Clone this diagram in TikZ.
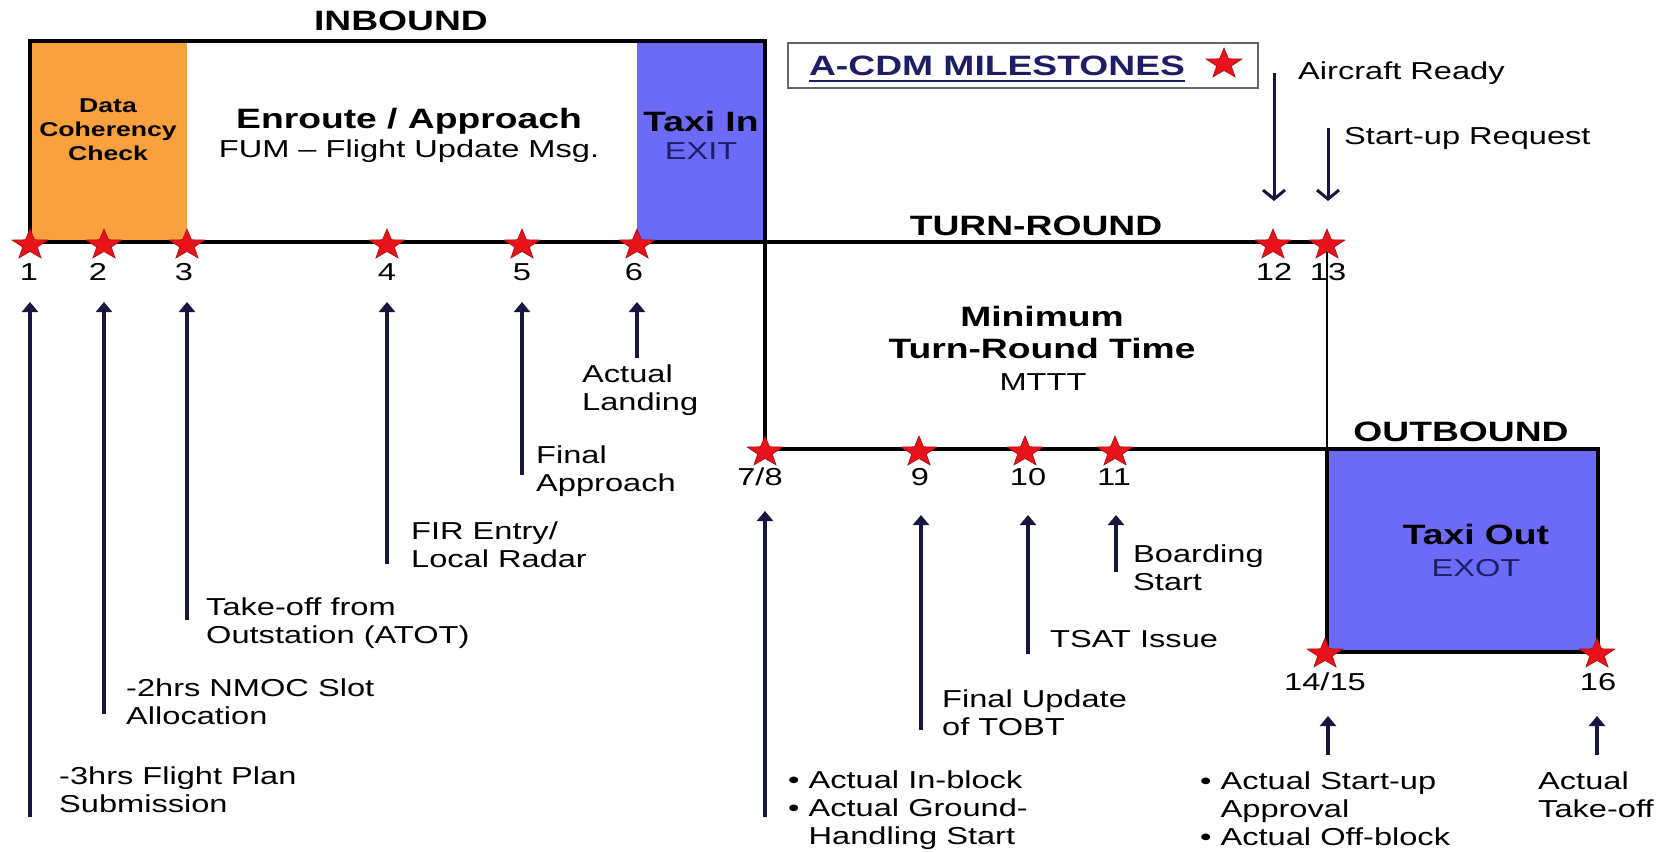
\documentclass[tikz,border=0pt]{standalone}
\usepackage{fontspec}
\setmainfont{Liberation Sans}[FakeStretch=1.33]
\usetikzlibrary{arrows.meta}

\definecolor{phaseorange}{HTML}{F9A03F}
\definecolor{taxiblue}{HTML}{6B6BF8}
\definecolor{arrownavy}{HTML}{16163F}
\definecolor{labelnavy}{HTML}{1E1E66}
\definecolor{starred}{HTML}{E8121A}

\tikzset{
  pics/mstar/.style={code={
    \path[fill=starred, draw=starred!70!black, line width=0.6pt, xscale=1.18]
      (90:16pt) -- (126:6.5pt) -- (162:16pt) -- (198:6.5pt) -- (234:16pt) --
      (270:6.5pt) -- (306:16pt) -- (342:6.5pt) -- (18:16pt) -- (54:6.5pt) -- cycle;
  }}
}

\begin{document}
\begin{tikzpicture}[x=1pt, y=-1pt,
  frame/.style={draw=black, line width=3.5pt},
  title/.style={font=\fontsize{28}{32}\selectfont\bfseries, inner sep=0pt},
  body/.style={font=\fontsize{24.5}{28}\selectfont, inner sep=0pt},
  label/.style={font=\fontsize{24.5}{28}\selectfont, align=left, anchor=west, inner sep=0pt},
  num/.style={font=\fontsize{24.5}{28}\selectfont, inner sep=0pt},
  uparrow/.style={draw=arrownavy, line width=3.4pt, -{Triangle[length=10pt, width=16pt]}},
  downarrow/.style={draw=arrownavy, line width=3pt, -{Straight Barb[length=9pt, width=22pt]}},
]
\useasboundingbox (0,0) rectangle (1675,851);

% ---------- phase fills ----------
\fill[phaseorange] (30,41) rectangle (187,242);
\fill[taxiblue] (637,41) rectangle (765,242);

% ---------- timeline frame ----------
\draw[frame] (1327,242) -- (30,242) -- (30,41) -- (765,41) -- (765,449) -- (1327,449);
\draw[draw=black, line width=2.2pt] (1327,242) -- (1327,449);
\draw[frame, fill=taxiblue] (1327,449) rectangle (1598,652);

% ---------- phase texts ----------
\node[title] (inbound) at (401,21) {INBOUND};
\node[font=\fontsize{20}{24}\selectfont\bfseries, align=center, inner sep=0pt] (dcc) at (108,130) {Data\\Coherency\\Check};
\node[title] (enroute) at (409,121) {Enroute / Approach};
\node[body] (fum) at (409,151) {FUM – Flight Update Msg.};
\node[title] (taxiin) at (701,121) {Taxi In};
\node[body, text=labelnavy] (exit) at (701,151) {EXIT};
\node[title] (turnround) at (1036,226) {TURN-ROUND};
\node[title] (minimum) at (1042,316) {Minimum};
\node[title] (mttttitle) at (1042,348) {Turn-Round Time};
\node[body] (mttt) at (1043,382) {MTTT};
\node[title] (outbound) at (1461,432) {OUTBOUND};
\node[title] (taxiout) at (1476,534) {Taxi Out};
\node[body, text=labelnavy] (exot) at (1476,568) {EXOT};

% ---------- legend ----------
\node[draw=black!60, line width=2pt, minimum width=470pt, minimum height=45pt, inner sep=0pt] (legend) at (1023,65.5) {};
\node[title, text=labelnavy] (legendtext) at (997,66) {A-CDM MILESTONES};
\draw[labelnavy, line width=2.5pt] ([yshift=-5pt]legendtext.south west) -- ([yshift=-5pt]legendtext.south east);
\pic (legendstar) at (1224,64) {mstar};

% ---------- milestone stars ----------
\foreach \x/\n in {30/1, 104/2, 187/3, 387/4, 522/5, 637/6, 1273/12, 1327/13}
  \pic (s\n) at (\x,245) {mstar};
\foreach \x/\n in {765/7, 919/9, 1025/10, 1115/11}
  \pic (s\n) at (\x,452) {mstar};
\foreach \x/\n in {1325/14, 1597/16}
  \pic (s\n) at (\x,654) {mstar};

% ---------- milestone numbers ----------
\node[num] (n1) at (29,272) {1};
\node[num] (n2) at (98,272) {2};
\node[num] (n3) at (184,272) {3};
\node[num] (n4) at (387,272) {4};
\node[num] (n5) at (522,272) {5};
\node[num] (n6) at (634,272) {6};
\node[num] (n12) at (1274,272) {12};
\node[num] (n13) at (1328,272) {13};
\node[num] (n7) at (760,477) {7/8};
\node[num] (n9) at (920,477) {9};
\node[num] (n10) at (1028,477) {10};
\node[num] (n11) at (1114,477) {11};
\node[num] (n14) at (1325,682) {14/15};
\node[num] (n16) at (1598,682) {16};

% ---------- event arrows ----------
\foreach \n/\x/\yb/\yt in {1/30/817/302, 2/104/714/302, 3/187/620/302, 4/387/564/302,
    5/522/475/302, 6/637/358/302, 7/765/817/511, 9/921/730/515, 10/1028/654/515,
    11/1116/572/515, 14/1328/755/716, 16/1597/755/716}{
  \coordinate (b\n) at (\x,\yb);
  \coordinate (t\n) at (\x,\yt);
  \draw[uparrow] (b\n) -- (t\n);
}
\coordinate (rdytop) at (1274,73);
\coordinate (rdytip) at (1274,201);
\coordinate (reqtop) at (1328,128);
\coordinate (reqtip) at (1328,201);
\draw[downarrow] (rdytop) -- (rdytip);
\draw[downarrow] (reqtop) -- (reqtip);

% ---------- event labels ----------
\node[label] (l1) at (59,790) {-3hrs Flight Plan\\Submission};
\node[label] (l2) at (126,702) {-2hrs NMOC Slot\\Allocation};
\node[label] (l3) at (206,623) {Take-off from\\Outstation (ATOT)};
\node[label] (l4) at (411,545) {FIR Entry/\\Local Radar};
\node[label] (l5) at (536,471) {Final\\Approach};
\node[label] (l6) at (582,390) {Actual\\Landing};
\node[label] (l7) at (788,810) {\textbullet\ Actual In-block\\\textbullet\ Actual Ground-\\\hphantom{\textbullet\ }Handling Start};
\node[label] (l9) at (942,713) {Final Update\\of TOBT};
\node[label] (l10) at (1050,639) {TSAT Issue};
\node[label] (l11) at (1133,568) {Boarding\\Start};
\node[label] (l14) at (1200,809) {\textbullet\ Actual Start-up\\\hphantom{\textbullet\ }Approval\\\textbullet\ Actual Off-block};
\node[label] (l16) at (1538,795) {Actual\\Take-off};
\node[label] (l12) at (1298,73) {Aircraft Ready};
\node[label] (l13) at (1344,138) {Start-up Request};
\end{tikzpicture}
\end{document}
